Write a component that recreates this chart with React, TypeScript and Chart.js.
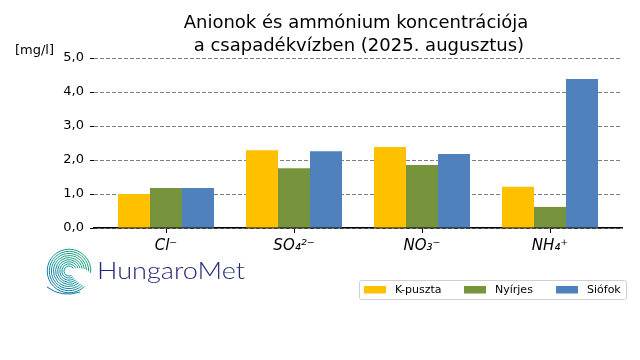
import React, { useEffect, useRef } from "react";
import { Chart, registerables } from "chart.js";

Chart.register(...registerables);

const categories = ["Cl⁻", "SO₄²⁻", "NO₃⁻", "NH₄⁺"];
const stations = ["K-puszta", "Nyírjes", "Siófok"];
const kpuszta = [1.0, 2.29, 2.38, 1.21];
const nyirjes = [1.18, 1.76, 1.85, 0.62];
const siofok = [1.18, 2.26, 2.18, 4.38];
const seriesValues = [kpuszta, nyirjes, siofok];
const seriesColors = ["#FFC000", "#77933C", "#4F81BD"];
const yTicks = [0, 1, 2, 3, 4, 5];
const titleLines = ["Anionok és ammónium koncentrációja", " a csapadékvízben (2025. augusztus)"];
const yUnit = "[mg/l]";
const logoText = "HungaroMet";

const FONT = '"DejaVu Sans", sans-serif';

const decorPlugin = {
  id: "decor",
  afterDraw(chart: any) {
    const ctx = chart.ctx as CanvasRenderingContext2D;
    ctx.save();
    // title
    ctx.fillStyle = "#000";
    ctx.font = `18px ${FONT}`;
    ctx.textAlign = "center";
    ctx.textBaseline = "alphabetic";
    const cx = 356;
    ctx.fillText(titleLines[0], cx, 28);
    ctx.fillText(titleLines[1], cx, 51);
    // unit label
    ctx.font = `13px ${FONT}`;
    ctx.textAlign = "left";
    ctx.fillText(yUnit, 15, 54);

    // legend
    const ds = chart.data.datasets;
    const lx = 359, ly = 280.5, lw = 267, lh = 19;
    ctx.strokeStyle = "#d0d0d0";
    ctx.lineWidth = 1;
    ctx.beginPath();
    ctx.roundRect(lx + 0.5, ly, lw, lh, 2);
    ctx.fillStyle = "rgba(255,255,255,0.8)";
    ctx.fill();
    ctx.stroke();
    const itemX = [364, 464, 556];
    ctx.font = `11px ${FONT}`;
    ctx.textBaseline = "middle";
    ds.forEach((d: any, i: number) => {
      ctx.fillStyle = d.backgroundColor;
      ctx.fillRect(itemX[i], 286, 22, 7.5);
      ctx.fillStyle = "#000";
      ctx.fillText(d.label, itemX[i] + 31, 290);
    });

    // logo spiral
    const ox = 69, oy = 271;
    const grad = ctx.createLinearGradient(48, 295, 92, 248);
    grad.addColorStop(0, "#1565b0");
    grad.addColorStop(0.5, "#0e9a9a");
    grad.addColorStop(1, "#23a85a");
    ctx.strokeStyle = grad;
    ctx.lineWidth = 1;
    for (let k = 0; k < 9; k++) {
      const r = 5 + k * 2.1;
      const start = 0.15 * Math.PI + (8 - k) * 0.03;
      const end = 1.85 * Math.PI + k * 0.07;
      ctx.beginPath();
      ctx.arc(ox, oy, r, start + Math.PI * 0.1, end);
      ctx.stroke();
    }
    ctx.beginPath();
    ctx.moveTo(47, 287);
    ctx.quadraticCurveTo(62, 298, 80, 292);
    ctx.stroke();
    // logo text
    ctx.fillStyle = "#24287a";
    ctx.font = `300 24px Lato, "Open Sans", sans-serif`;
    ctx.textBaseline = "alphabetic";
    ctx.textAlign = "left";
    const w = ctx.measureText(logoText).width;
    ctx.save();
    ctx.translate(97, 279);
    ctx.scale(148 / w, 1);
    ctx.fillText(logoText, 0, 0);
    ctx.restore();
    ctx.restore();
  },
};

export default function App() {
  const ref = useRef<HTMLCanvasElement | null>(null);
  useEffect(() => {
    if (!ref.current) return;
    const chart = new Chart(ref.current, {
      type: "bar",
      data: {
        datasets: seriesValues.map((vals, s) => ({
          label: stations[s],
          data: vals.map((v, i) => ({ x: i, y: v })),
          backgroundColor: seriesColors[s],
          borderWidth: 0,
          categoryPercentage: 0.75,
          barPercentage: 1,
        })),
      },
      options: {
        responsive: false,
        animation: false,
        devicePixelRatio: 1,
        events: [],
        layout: { padding: { left: 0, right: 18, top: 58, bottom: 0 } },
        plugins: { legend: { display: false }, title: { display: false }, tooltip: { enabled: false } },
        scales: {
          x: {
            type: "linear",
            min: -0.5625,
            max: 3.5625,
            offset: false,
            afterBuildTicks: (s: any) => {
              s.ticks = categories.map((_, i) => ({ value: i }));
            },
            afterFit: (s: any) => {
              s.height = 132;
            },
            grid: { offset: false, drawOnChartArea: false, drawTicks: true, tickLength: 5, tickColor: "#000", tickWidth: 1 },
            border: { display: true, color: "#000", width: 1.5 },
            ticks: {
              callback: (v: any) => categories[v] ?? "",
              font: { family: FONT, size: 15, style: "italic" },
              color: "#000",
              padding: 4,
              maxRotation: 0,
              autoSkip: false,
            },
          },
          y: {
            min: 0,
            max: 5,
            afterBuildTicks: (s: any) => {
              s.ticks = yTicks.map((v) => ({ value: v }));
            },
            afterFit: (s: any) => {
              s.width = 94;
            },
            grid: { color: "#808080", lineWidth: 1, drawTicks: true, tickLength: 4, tickColor: "#000", tickBorderDash: [] },
            border: { display: false, dash: [4, 2] },
            ticks: {
              callback: (v: any) => Number(v).toFixed(1).replace(".", ","),
              font: { family: FONT, size: 13 },
              color: "#000",
              padding: 6,
            },
          },
        },
      } as any,
      plugins: [decorPlugin],
    });
    return () => chart.destroy();
  }, []);
  return (
    <div style={{ position: "fixed", left: 0, top: 0, width: 640, height: 360, background: "#fff" }}>
      <canvas ref={ref} width={640} height={360} />
    </div>
  );
}
